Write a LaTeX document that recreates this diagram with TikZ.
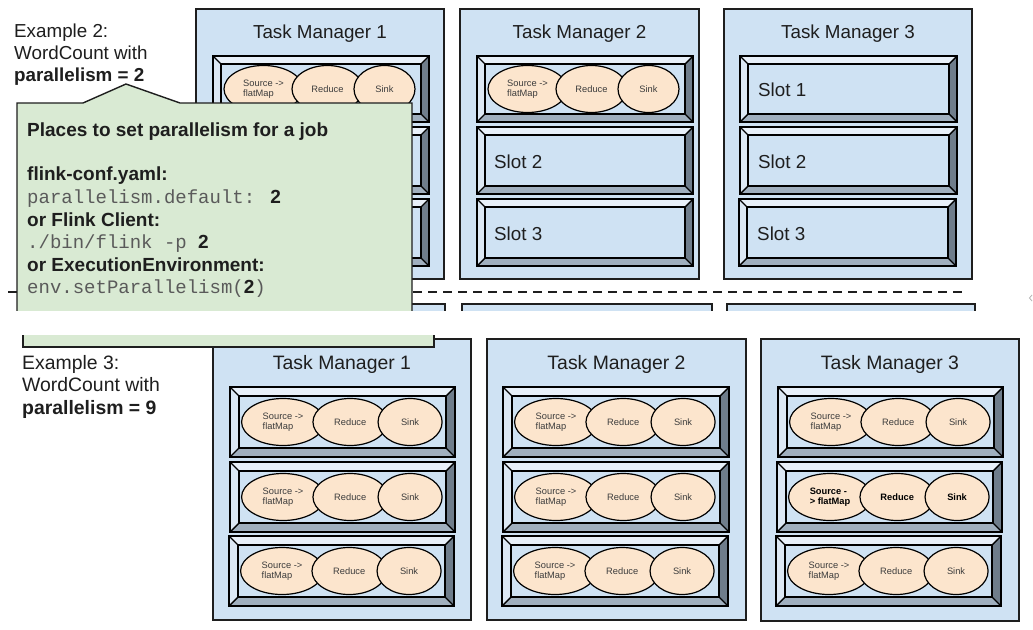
\documentclass[tikz,border=0pt]{standalone}
\usepackage{fontspec}
\setmainfont{Liberation Sans}
\newfontfamily\codefont{Liberation Mono}
\usetikzlibrary{shapes.geometric}

\definecolor{tmblue}{HTML}{CFE2F3}
\definecolor{bevtopc}{HTML}{E8F0F9}
\definecolor{bevleftc}{HTML}{DCE8F4}
\definecolor{bevrightc}{HTML}{6F7D8B}
\definecolor{bevbotc}{HTML}{A0AFBE}
\definecolor{opfill}{HTML}{FCE5CD}
\definecolor{notegreen}{HTML}{D9EAD3}
\definecolor{codegray}{HTML}{5A5A5A}
\definecolor{ink}{HTML}{1E1E1E}
\definecolor{oplabel}{HTML}{3C3C3C}

\tikzset{
  tmbox/.style={draw=ink, line width=1.3pt, fill=tmblue, anchor=north west,
    inner sep=0pt, outer sep=0pt},
  tmtitle/.style={anchor=base, inner sep=0pt, text=ink, font=\fontsize{18.8}{22}\selectfont},
  slotline/.style={draw=black, line width=1.4pt, line join=miter},
  slotlabel/.style={anchor=base west, inner sep=0pt, text=ink, font=\fontsize{18.8}{22}\selectfont},
  op/.style={ellipse, draw=black, line width=1.2pt, fill=opfill, inner sep=0pt,
    minimum height=47pt, align=left, text=oplabel, font=\fontsize{9.3}{10.5}\selectfont},
  notebox/.style={fill=notegreen},
  noteedge/.style={draw=ink, line width=1.4pt, line join=miter},
  noteline/.style={anchor=base west, inner sep=0pt, text=ink, font=\fontsize{19}{22}\selectfont\bfseries},
  codeline/.style={anchor=base west, inner sep=0pt, text=codegray, font=\fontsize{19}{22}\codefont},
  exline/.style={anchor=base west, inner sep=0pt, text=ink, font=\fontsize{18.8}{22}\selectfont},
  exlinelow/.style={anchor=base west, inner sep=0pt, text=ink, font=\fontsize{19.4}{22}\selectfont},
  stripbox/.style={draw=ink, line width=1.3pt, fill=tmblue},
  sepline/.style={draw=ink, line width=2pt, dash pattern=on 9pt off 6pt},
}

% bevelled slot: #1 name, (#2,#3) top-left, (#4,#5) bottom-right, #6 bevel depth
\newcommand\slotframe[6]{%
  \coordinate (#1-nw) at (#2,#3);
  \coordinate (#1-se) at (#4,#5);
  \fill[bevtopc] (#2,#3) -- (#4,#3) -- (#4-#6,#3+#6) -- (#2+#6,#3+#6) -- cycle;
  \fill[bevleftc] (#2,#3) -- (#2+#6,#3+#6) -- (#2+#6,#5-#6) -- (#2,#5) -- cycle;
  \fill[bevrightc] (#4,#3) -- (#4,#5) -- (#4-#6,#5-#6) -- (#4-#6,#3+#6) -- cycle;
  \fill[bevbotc] (#2,#5) -- (#4,#5) -- (#4-#6,#5-#6) -- (#2+#6,#5-#6) -- cycle;
  \fill[tmblue] (#2+#6,#3+#6) rectangle (#4-#6,#5-#6);
  \draw[slotline] (#2,#3) -- (#2+#6,#3+#6) (#4,#3) -- (#4-#6,#3+#6)
                  (#2,#5) -- (#2+#6,#5-#6) (#4,#5) -- (#4-#6,#5-#6);
  \draw[slotline] (#2+#6,#3+#6) rectangle (#4-#6,#5-#6);
  \draw[slotline] (#2,#3) rectangle (#4,#5);
}

% one chain of operators in a slot: #1 prefix, #2 slot left x, #3 centre y, #4 horizontal scale
\newcommand\opsrow[4]{%
  \node[op, minimum width={79*#4}] (#1-src) at ({#2+50.5*#4},#3) {Source ->\\flatMap};
  \node[op, minimum width={71*#4}, align=center] (#1-red) at ({#2+114.5*#4},#3) {Reduce};
  \node[op, minimum width={61*#4}, align=center] (#1-snk) at ({#2+171.5*#4},#3) {Sink};
}

\begin{document}
\begin{tikzpicture}[x=1pt,y=-1pt]
\useasboundingbox (0,0) rectangle (1033,629);
\fill[white] (0,0) rectangle (1033,629);

% ---------------- parallelism = 2 ----------------
\node[tmbox, minimum width=248pt, minimum height=270pt] (tmA1) at (196,9) {};
\node[tmbox, minimum width=239pt, minimum height=270pt] (tmA2) at (460,9) {};
\node[tmbox, minimum width=248pt, minimum height=270pt] (tmA3) at (724,9) {};
\node[tmtitle] (tmA1t) at (320,38) {Task Manager 1};
\node[tmtitle] (tmA2t) at (579.5,38) {Task Manager 2};
\node[tmtitle] (tmA3t) at (848,38) {Task Manager 3};

\slotframe{a11}{213}{56}{429}{122}{8}
\slotframe{a12}{213}{127}{429}{194}{8}
\slotframe{a13}{213}{199}{429}{266}{8}
\opsrow{a11}{213}{89}{1}

\slotframe{a21}{477}{56}{693}{122}{8}
\slotframe{a22}{477}{127}{693}{194}{8}
\slotframe{a23}{477}{199}{693}{266}{8}
\opsrow{a21}{477}{89}{1}
\node[slotlabel] (a22l) at (494,168) {Slot 2};
\node[slotlabel] (a23l) at (494,240) {Slot 3};

\slotframe{a31}{740}{56}{957}{122}{8}
\slotframe{a32}{740}{127}{957}{194}{8}
\slotframe{a33}{739}{199}{956}{266}{8}
\node[slotlabel] (a31l) at (758,96) {Slot 1};
\node[slotlabel] (a32l) at (758,168) {Slot 2};
\node[slotlabel] (a33l) at (757,240) {Slot 3};

% tops of the next row, cut off by the frame edge
\draw[stripbox] (200,304) rectangle (445,330);
\draw[stripbox] (462,304) rectangle (712,330);
\draw[stripbox] (727,304) rectangle (975,330);

% separator
\coordinate (sepL) at (8,292);
\coordinate (sepR) at (962,292);
\draw[sepline] (sepL) -- (sepR);

% call-out with the places to set the parallelism
\fill[notebox] (17,103) -- (83,103) -- (126,84) -- (180,103) -- (412,103) -- (412,320) -- (17,320) -- cycle;
\draw[noteedge] (17,320) -- (17,103) -- (83,103) -- (126,84) -- (180,103) -- (412,103) -- (412,320);
\node[noteline] (n1) at (27,136) {Places to set parallelism for a job};
\node[noteline] (n2) at (27,180) {flink-conf.yaml:};
\node[codeline] (n3) at (27,203) {parallelism.default: {\rmfamily\bfseries\color{ink}2}};
\node[noteline] (n4) at (27,226) {or Flink Client:};
\node[codeline] (n5) at (27,248) {./bin/flink -p {\rmfamily\bfseries\color{ink}2}};
\node[noteline] (n6) at (27,271) {or ExecutionEnvironment:};
\node[codeline] (n7) at (27,293) {env.setParallelism({\rmfamily\bfseries\color{ink}2})};

\node[exline] (ex2a) at (14,37) {Example 2:};
\node[exline] (ex2b) at (14,59) {WordCount with};
\node[exline, font=\fontsize{18.8}{22}\selectfont\bfseries] (ex2c) at (14,81) {parallelism = 2};

% gap between the two panels
\fill[white] (0,311) rectangle (1033,335);

% ---------------- parallelism = 9 ----------------
\node[tmbox, minimum width=258pt, minimum height=281pt] (tmB1) at (213,339) {};
\node[tmbox, minimum width=259pt, minimum height=281pt] (tmB2) at (487,339) {};
\node[tmbox, minimum width=258pt, minimum height=282pt] (tmB3) at (761,339) {};
\node[tmtitle, font=\fontsize{19.4}{22}\selectfont] (tmB1t) at (342,369) {Task Manager 1};
\node[tmtitle, font=\fontsize{19.4}{22}\selectfont] (tmB2t) at (616.5,369) {Task Manager 2};
\node[tmtitle, font=\fontsize{19.4}{22}\selectfont] (tmB3t) at (890,369) {Task Manager 3};

\slotframe{b11}{230}{387}{455}{457}{9}
\slotframe{b12}{230}{462}{455}{532}{9}
\slotframe{b13}{229}{536}{454}{606}{9}
\opsrow{b11}{230}{422}{1.05}
\opsrow{b12}{230}{497}{1.05}
\opsrow{b13}{229}{571}{1.05}

\slotframe{b21}{503}{387}{729}{457}{9}
\slotframe{b22}{503}{462}{729}{532}{9}
\slotframe{b23}{502}{536}{728}{606}{9}
\opsrow{b21}{503}{422}{1.05}
\opsrow{b22}{503}{497}{1.05}
\opsrow{b23}{502}{571}{1.05}

\slotframe{b31}{778}{387}{1003}{457}{9}
\slotframe{b32}{777}{462}{1002}{532}{9}
\slotframe{b33}{776}{536}{1001}{606}{9}
\opsrow{b31}{778}{422}{1.05}
\node[op, minimum width={79*1.05}, font=\fontsize{9.3}{10.5}\selectfont\bfseries, text=black]
  (b32-src) at ({777+50.5*1.05},497) {Source -\\> flatMap};
\node[op, minimum width={71*1.05}, align=center, font=\fontsize{9.3}{10.5}\selectfont\bfseries, text=black]
  (b32-red) at ({777+114.5*1.05},497) {Reduce};
\node[op, minimum width={61*1.05}, align=center, font=\fontsize{9.3}{10.5}\selectfont\bfseries, text=black]
  (b32-snk) at ({777+171.5*1.05},497) {Sink};
\opsrow{b33}{776}{571}{1.05}

% lower edge of the call-out as it continues in this panel
\fill[notebox] (23,335) rectangle (434,347);
\draw[noteedge] (23,335) -- (23,347) -- (434,347) -- (434,335);

\node[exlinelow] (ex3a) at (22,369) {Example 3:};
\node[exlinelow] (ex3b) at (22,391) {WordCount with};
\node[exlinelow, font=\fontsize{19.4}{22}\selectfont\bfseries] (ex3c) at (22,414) {parallelism = 9};

% small mark at the right border
\draw[gray!60, line width=0.8pt] (1032,295) -- (1029.5,298) -- (1032,301);
\end{tikzpicture}
\end{document}
